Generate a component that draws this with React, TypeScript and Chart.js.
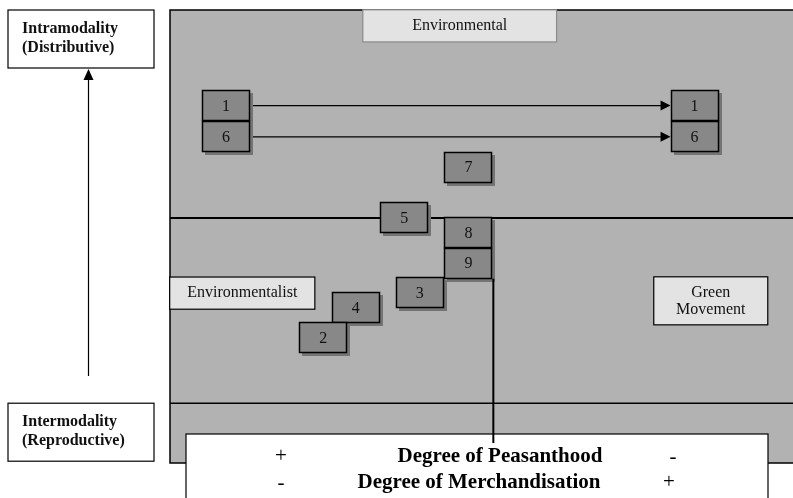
import React, { useEffect, useRef } from "react";
import { Chart, registerables } from "chart.js";

Chart.register(...registerables);

// Boxes (numbered cases) — positions on the diagram's two axes (0-100)
const boxLabels = ["1", "6", "1", "6", "7", "5", "8", "9", "3", "4", "2"];
const boxX = [9.0, 9.0, 84.2, 84.2, 47.9, 37.6, 47.9, 47.9, 40.1, 29.8, 24.6];
const boxY = [78.9, 72.0, 78.9, 72.0, 65.3, 54.1, 50.9, 44.1, 37.6, 34.3, 27.7];

// Movement arrows: from box index -> to box index
const arrowFrom = [0, 1];
const arrowTo = [2, 3];

// Quadrant divisions
const dividerY = 54.1;
const lowerBandY = 13.2;
const dividerX = 51.9;
const dividerXBottom = 4.4;

// Quadrant category labels (center positions)
const catLabels = [["Environmental"], ["Environmentalist"], ["Green", "Movement"]];
const catX = [46.5, 11.6, 86.8];
const catY = [96.5, 37.5, 35.8];
const catW = [31.1, 23.3, 18.3];
const catH = [7.1, 7.1, 10.6];

// Axis captions
const yTopLabel = ["Intramodality", "(Distributive)"];
const yBottomLabel = ["Intermodality", "(Reproductive)"];
const xRow1 = ["+", "Degree of Peasanthood", "-"];
const xRow2 = ["-", "Degree of Merchandisation", "+"];

const SERIF = "'Liberation Serif', 'Times New Roman', serif";

const diagramPlugin = {
  id: "diagram",
  beforeDatasetsDraw(chart: any) {
    const { ctx, chartArea: a, scales } = chart;
    const xs = scales.x;
    const ys = scales.y;
    ctx.save();
    // panel
    ctx.fillStyle = "#b2b2b2";
    ctx.fillRect(a.left, a.top, a.right - a.left + 5, a.bottom - a.top);
    ctx.strokeStyle = "#000";
    ctx.lineWidth = 1.5;
    ctx.beginPath();
    ctx.moveTo(a.right + 5, a.top);
    ctx.lineTo(a.left, a.top);
    ctx.lineTo(a.left, a.bottom);
    ctx.lineTo(a.right + 5, a.bottom);
    ctx.stroke();
    // dividers
    ctx.lineWidth = 2;
    const dy = ys.getPixelForValue(dividerY);
    ctx.beginPath();
    ctx.moveTo(a.left, dy);
    ctx.lineTo(a.right, dy);
    ctx.stroke();
    ctx.lineWidth = 1.5;
    const ly = ys.getPixelForValue(lowerBandY);
    ctx.beginPath();
    ctx.moveTo(a.left, ly);
    ctx.lineTo(a.right, ly);
    ctx.stroke();

    // category boxes
    ctx.font = "16px " + SERIF;
    ctx.textAlign = "center";
    ctx.textBaseline = "middle";
    catLabels.forEach((lines, i) => {
      const cx = xs.getPixelForValue(catX[i]);
      const cy = ys.getPixelForValue(catY[i]);
      const w = Math.abs(xs.getPixelForValue(catW[i]) - xs.getPixelForValue(0));
      const h = Math.abs(ys.getPixelForValue(catH[i]) - ys.getPixelForValue(0));
      ctx.fillStyle = "#e3e3e3";
      ctx.fillRect(cx - w / 2, cy - h / 2, w, h);
      ctx.strokeStyle = i === 0 ? "#8a8a8a" : "#000";
      ctx.lineWidth = 1.2;
      ctx.strokeRect(cx - w / 2, cy - h / 2, w, h);
      ctx.fillStyle = "#111";
      lines.forEach((t, k) => {
        ctx.fillText(t, cx, cy + (k - (lines.length - 1) / 2) * 17);
      });
    });
    ctx.restore();
  },
  afterDatasetsDraw(chart: any) {
    const { ctx, chartArea: a, scales } = chart;
    const xs = scales.x;
    const ys = scales.y;
    const meta = chart.getDatasetMeta(0);
    const BW = 48;
    const BH = 31;
    ctx.save();
    // arrows
    ctx.strokeStyle = "#000";
    ctx.fillStyle = "#000";
    ctx.lineWidth = 1.2;
    arrowFrom.forEach((f, i) => {
      const p0 = meta.data[f];
      const p1 = meta.data[arrowTo[i]];
      const x0 = p0.x + BW / 2;
      const x1 = p1.x - BW / 2;
      const y = p0.y;
      ctx.beginPath();
      ctx.moveTo(x0, y);
      ctx.lineTo(x1 - 9, y);
      ctx.stroke();
      ctx.beginPath();
      ctx.moveTo(x1, y);
      ctx.lineTo(x1 - 10, y - 5);
      ctx.lineTo(x1 - 10, y + 5);
      ctx.closePath();
      ctx.fill();
    });
    // boxes
    ctx.font = "16px " + SERIF;
    ctx.textAlign = "center";
    ctx.textBaseline = "middle";
    meta.data.forEach((pt: any) => {
      const x = Math.round(pt.x - BW / 2);
      const y = Math.round(pt.y - BH / 2);
      ctx.fillStyle = "#747474";
      ctx.fillRect(x + 3, y + 3, BW, BH);
    });
    meta.data.forEach((pt: any, i: number) => {
      const x = Math.round(pt.x - BW / 2);
      const y = Math.round(pt.y - BH / 2);
      ctx.fillStyle = "#888888";
      ctx.fillRect(x, y, BW, BH);
      ctx.strokeStyle = "#000";
      ctx.lineWidth = 1.5;
      ctx.strokeRect(x + 0.5, y + 0.5, BW - 1, BH - 1);
      ctx.fillStyle = "#111";
      ctx.fillText(boxLabels[i], pt.x, pt.y + 1);
    });

    // y-axis captions (outside the panel)
    const drawCaption = (lines: string[], top: number) => {
      ctx.fillStyle = "#fff";
      ctx.fillRect(8, top, 146, 58);
      ctx.strokeStyle = "#000";
      ctx.lineWidth = 1.2;
      ctx.strokeRect(8, top, 146, 58);
      ctx.fillStyle = "#111";
      ctx.font = "bold 16px " + SERIF;
      ctx.textAlign = "left";
      lines.forEach((t, k) => ctx.fillText(t, 22, top + 19 + k * 19));
    };
    drawCaption(yTopLabel, a.top);
    drawCaption(yBottomLabel, ys.getPixelForValue(lowerBandY));
    // vertical arrow
    ctx.strokeStyle = "#000";
    ctx.lineWidth = 1.2;
    ctx.beginPath();
    ctx.moveTo(88.5, 376);
    ctx.lineTo(88.5, 78);
    ctx.stroke();
    ctx.fillStyle = "#000";
    ctx.beginPath();
    ctx.moveTo(88.5, 69);
    ctx.lineTo(83.5, 80);
    ctx.lineTo(93.5, 80);
    ctx.closePath();
    ctx.fill();

    // x-axis caption box
    ctx.fillStyle = "#fff";
    ctx.fillRect(186, 434, 582, 70);
    ctx.strokeStyle = "#000";
    ctx.lineWidth = 1.2;
    ctx.strokeRect(186, 434, 582, 70);
    ctx.fillStyle = "#000";
    ctx.textAlign = "center";
    ctx.font = "21px " + SERIF;
    ctx.fillText(xRow1[0], 281, 456);
    ctx.fillText(xRow1[2], 673, 457);
    ctx.fillText(xRow2[0], 281, 483);
    ctx.fillText(xRow2[2], 669, 482);
    ctx.font = "bold 21px " + SERIF;
    ctx.fillText(xRow1[1], 500, 457);
    ctx.fillText(xRow2[1], 479, 483);

    // vertical divider from box 9 down into caption
    const vx = xs.getPixelForValue(dividerX);
    ctx.lineWidth = 2;
    ctx.beginPath();
    ctx.moveTo(vx, meta.data[7].y + BH / 2);
    ctx.lineTo(vx, ys.getPixelForValue(dividerXBottom));
    ctx.stroke();
    ctx.restore();
  },
};

export default function App() {
  const ref = useRef<HTMLCanvasElement | null>(null);
  useEffect(() => {
    if (!ref.current) return;
    const chart = new Chart(ref.current, {
      type: "scatter",
      data: {
        datasets: [
          {
            data: boxX.map((x, i) => ({ x, y: boxY[i] })),
            pointRadius: 0,
            pointHoverRadius: 0,
          },
        ],
      },
      options: {
        animation: false,
        responsive: false,
        devicePixelRatio: 1,
        layout: { padding: { left: 170, top: 10, right: 0, bottom: 35 } },
        scales: {
          x: { type: "linear", min: 0, max: 100, display: false },
          y: { type: "linear", min: 0, max: 100, display: false },
        },
        plugins: { legend: { display: false }, tooltip: { enabled: false } },
        events: [],
      },
      plugins: [diagramPlugin],
    });
    return () => chart.destroy();
  }, []);
  return (
    <div style={{ position: "fixed", left: 0, top: 0, width: 793, height: 498, background: "#fff" }}>
      <canvas ref={ref} width={793} height={498} style={{ width: 793, height: 498, display: "block" }} />
    </div>
  );
}
